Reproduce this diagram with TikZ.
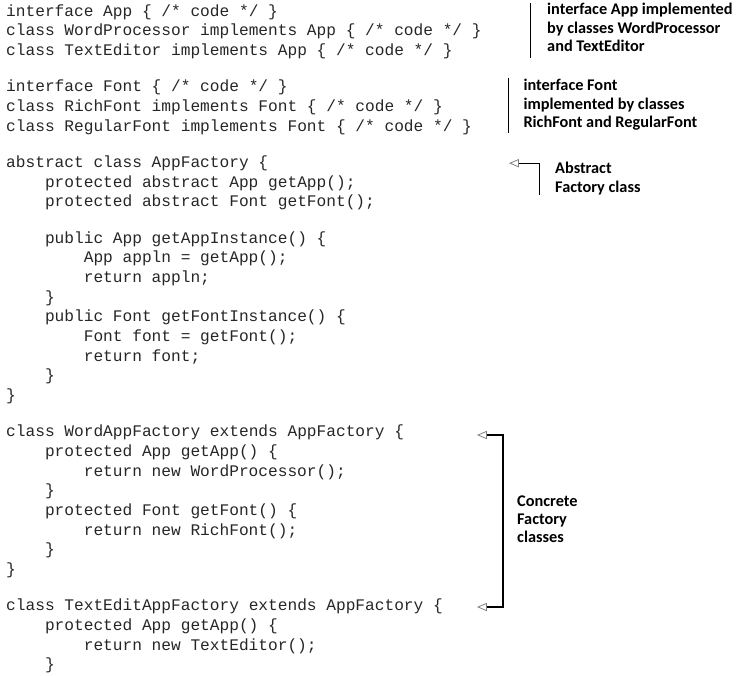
\documentclass[tikz,border=0pt]{standalone}
\usepackage{fontspec}
\setmonofont{Liberation Mono}
\newfontfamily\lblfont{Carlito}
\tikzset{
  code/.style={anchor=base west, inner sep=0pt, text=black!85,
    font=\fontsize{16.17}{19.67}\selectfont\ttfamily},
  lbl/.style={anchor=base west, inner sep=0pt, text=black,
    font=\fontsize{16.3}{18.4}\selectfont\lblfont\bfseries},
  bar/.style={draw=black, line width=1.2pt},
  tri/.style={draw=black!50, fill=white, line width=0.8pt, line join=miter}
}
\newcommand\cl[4]{\node[code] (#1) at (#2,#3) {#4};}
\newcommand\opentip[1]{\draw[tri] (#1) -- ++(8.5,3.6) -- ++(0,-7.2) -- cycle;}
\begin{document}
\begin{tikzpicture}[x=1pt,y=1pt]
\useasboundingbox (0,0) rectangle (738,-676);
% code lines
\cl{l1}{6}{-16.3}{interface App \{ /* code */ \}}
\cl{l2}{6}{-36.0}{class WordProcessor implements App \{ /* code */ \}}
\cl{l3}{6}{-55.6}{class TextEditor implements App \{ /* code */ \}}
\cl{l4}{6}{-91.9}{interface Font \{ /* code */ \}}
\cl{l5}{6}{-111.6}{class RichFont implements Font \{ /* code */ \}}
\cl{l6}{6}{-131.3}{class RegularFont implements Font \{ /* code */ \}}
\cl{l7}{6}{-167.6}{abstract class AppFactory \{}
\cl{l8}{44.8}{-187.3}{protected abstract App getApp();}
\cl{l9}{44.8}{-206.9}{protected abstract Font getFont();}
\cl{l10}{44.8}{-243.2}{public App getAppInstance() \{}
\cl{l11}{83.6}{-262.9}{App appln = getApp();}
\cl{l12}{83.6}{-282.6}{return appln;}
\cl{l13}{44.8}{-302.2}{\}}
\cl{l14}{44.8}{-321.9}{public Font getFontInstance() \{}
\cl{l15}{83.6}{-341.6}{Font font = getFont();}
\cl{l16}{83.6}{-361.2}{return font;}
\cl{l17}{44.8}{-380.9}{\}}
\cl{l18}{6}{-400.6}{\}}
\cl{l19}{6}{-436.9}{class WordAppFactory extends AppFactory \{}
\cl{l20}{44.8}{-456.6}{protected App getApp() \{}
\cl{l21}{83.6}{-476.2}{return new WordProcessor();}
\cl{l22}{44.8}{-495.9}{\}}
\cl{l23}{44.8}{-515.6}{protected Font getFont() \{}
\cl{l24}{83.6}{-535.2}{return new RichFont();}
\cl{l25}{44.8}{-554.9}{\}}
\cl{l26}{6}{-574.6}{\}}
\cl{l27}{6}{-610.9}{class TextEditAppFactory extends AppFactory \{}
\cl{l28}{44.8}{-630.5}{protected App getApp() \{}
\cl{l29}{83.6}{-650.2}{return new TextEditor();}
\cl{l30}{44.8}{-669.9}{\}}
% annotations
\node[lbl] (a1) at (547,-15) {\vtop{\hbox{interface App implemented}\hbox{by classes WordProcessor}\hbox{and TextEditor}}};
\node[lbl] (a2) at (523.3,-90.8) {\vtop{\hbox{interface Font}\hbox{implemented by classes}\hbox{RichFont and RegularFont}}};
\node[lbl] (a3) at (555,-173.8) {\vtop{\hbox{Abstract}\hbox{Factory class}}};
\node[lbl] (a4) at (517,-506) {\vtop{\hbox{Concrete}\hbox{Factory}\hbox{classes}}};
% bars
\coordinate (b1t) at (530.7,-3);
\coordinate (b1b) at (530.7,-58);
\coordinate (b2t) at (508.3,-78);
\coordinate (b2b) at (508.3,-133);
\draw[bar] (b1t) -- (b1b);
\draw[bar] (b2t) -- (b2b);
% abstract factory arrow
\coordinate (t7) at (510,-163.2);
\coordinate (k7) at (539.3,-163.2);
\coordinate (e7) at (539.3,-195);
\draw[bar] (e7) -- (k7) -- ([xshift=8.5pt]t7);
\opentip{t7}
% concrete factories bracket
\coordinate (t19) at (478,-435);
\coordinate (k19) at (503,-435);
\coordinate (k27) at (503,-607);
\coordinate (t27) at (478,-607);
\draw[bar] ([xshift=8.5pt]t19) -- (k19) -- (k27) -- ([xshift=8.5pt]t27);
\opentip{t19}
\opentip{t27}
\end{tikzpicture}
\end{document}
